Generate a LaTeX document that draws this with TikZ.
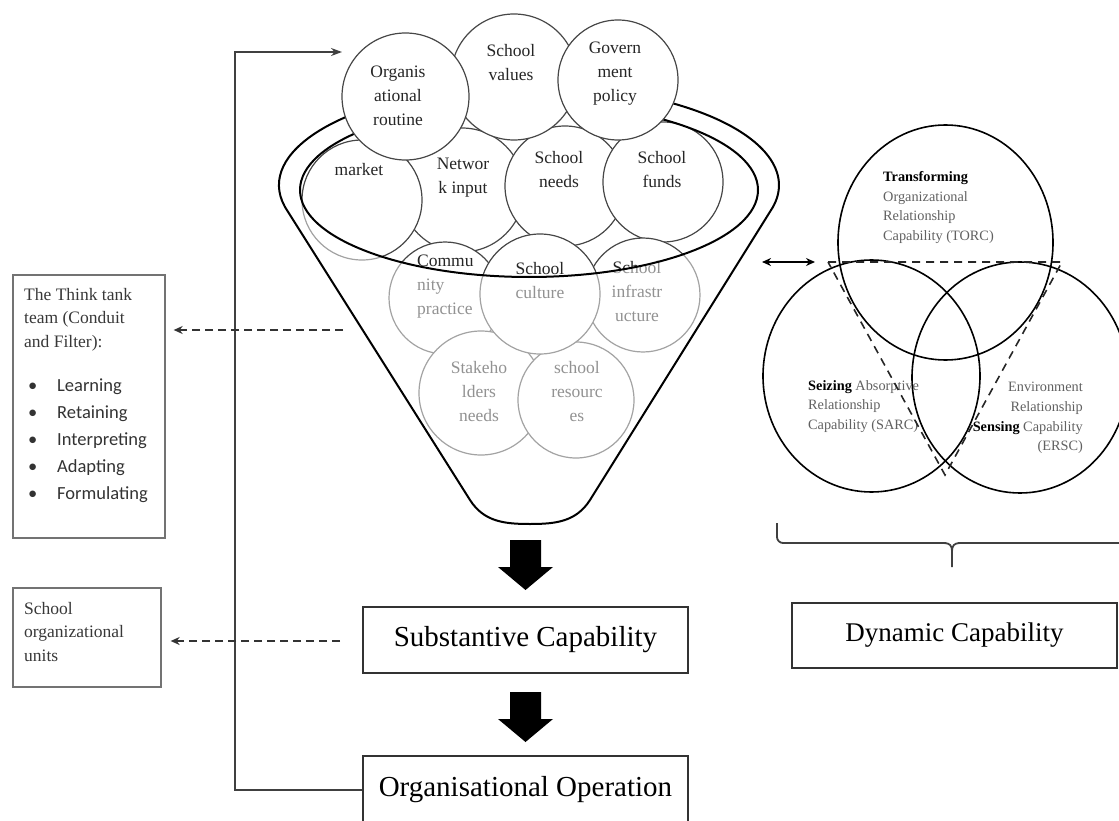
\documentclass[tikz,border=0pt]{standalone}
\usepackage{fontspec}
\setmainfont{Liberation Serif}
\newfontfamily\calfont{Carlito}
\usetikzlibrary{arrows.meta,shapes.geometric}

\begin{document}
\begin{tikzpicture}[x=1pt,y=-1pt,
  bubble/.style={circle,draw=black!72,line width=1.2pt,fill=white,inner sep=0pt},
  bubtext/.style={font=\fontsize{17.5}{24}\selectfont,align=center,inner sep=0pt,text=black!85},
  funnel/.style={draw=black,line width=2pt},
  vennc/.style={ellipse,draw=black,line width=1.6pt,inner sep=0pt},
  venntext/.style={font=\fontsize{14.3}{19.6}\selectfont,inner sep=0pt,text=black!62},
  smallbox/.style={draw=black!55,line width=1.3pt,inner sep=0pt},
  boxtext/.style={font=\fontsize{17.5}{23.5}\selectfont,align=left,inner sep=0pt,text=black!78},
  bullettext/.style={font=\calfont\fontsize{18.5}{27}\selectfont,align=left,inner sep=0pt,text=black!80},
  bigbox/.style={draw=black!80,line width=1.8pt,inner sep=0pt,minimum width=325pt},
  dasharrow/.style={draw=black!80,line width=1.7pt,dash pattern=on 8pt off 5pt,
    -{Stealth[length=9pt,width=8pt]}},
  flowline/.style={draw=black!75,line width=1.8pt,-{Stealth[length=11pt,width=8pt]}},
  bigdown/.pic={\fill[black] (-15.5,0) -- (15.5,0) -- (15.5,27) -- (27.5,27) -- (0,50)
    -- (-27.5,27) -- (-15.5,27) -- cycle;}
]
\useasboundingbox (0,0) rectangle (1119,821);

% ---------- inputs poured into the funnel ----------
\node[bubble,minimum size=124pt] (netw) at (462,190) {};
\node[bubtext] (netwt) at (463,177.5) {Networ\\k input};
\node[bubble,minimum size=120pt] (mark) at (362,200) {};
\node[bubtext] (markt) at (359,170) {market};
\node[bubble,minimum size=120pt] (need) at (565,186) {};
\node[bubtext] (needt) at (559,169.5) {School\\needs};
\node[bubble,minimum size=120pt] (fund) at (663,182) {};
\node[bubtext] (fundt) at (662,169.5) {School\\funds};

\node[bubble,minimum size=112pt] (comm) at (445,298) {};
\node[bubtext,align=left,anchor=west] (commt) at (417,286.5) {Commu\\nity\\practice};
\node[bubble,minimum size=114pt] (infr) at (643,295) {};
\node[bubtext] (infrt) at (637,291.5) {School\\infrastr\\ucture};
\node[bubble,minimum size=124pt] (stak) at (481,393) {};
\node[bubtext] (stakt) at (479,391.5) {Stakeho\\lders\\needs};
\node[bubble,minimum size=116pt] (reso) at (576,400) {};
\node[bubtext] (resot) at (577,391.5) {school\\resourc\\es};
\node[bubble,minimum size=120pt] (cult) at (540,294) {};
\node[bubtext] (cultt) at (540,280.5) {School\\culture};

% funnel body veils what lies below the opening
\fill[white,fill opacity=.5,even odd rule]
  (287.5,211) arc[start angle=165,end angle=375,x radius=250,y radius=100]
  -- (590,500) .. controls (576,522) and (555,524) .. (530,524)
  .. controls (505,524) and (484,522) .. (470,500) -- cycle
  (529,190) ellipse[x radius=229,y radius=87];

% funnel outline and rim
\draw[funnel]
  (287.5,211) arc[start angle=165,end angle=375,x radius=250,y radius=100]
  -- (590,500) .. controls (576,522) and (555,524) .. (530,524)
  .. controls (505,524) and (484,522) .. (470,500) -- cycle;
\draw[funnel] (529,190) ellipse[x radius=229,y radius=87];

% top row, resting on the rim
\node[bubble,minimum size=126pt] (valu) at (514,77) {};
\node[bubtext] (valut) at (511,62.5) {School\\values};
\node[bubble,minimum size=120pt] (govp) at (618,80) {};
\node[bubtext] (govpt) at (615,74) {Govern\\ment\\policy};
\node[bubble,minimum size=127pt] (orgr) at (405.5,96.5) {};
\node[bubtext] (orgrt) at (398,96) {Organis\\ational\\routine};

% ---------- outputs of the funnel ----------
\pic at (525.5,540) {bigdown};
\node[bigbox,minimum height=66pt,font=\fontsize{29}{34}\selectfont] (sc) at (525.5,640) {Substantive Capability};
\pic at (525.5,692) {bigdown};
\node[bigbox,minimum height=68pt,font=\fontsize{29}{34}\selectfont] (oo) at (525.5,790) {Organisational Operation};

% feedback loop back to the inputs
\coordinate (fbtip) at (342,52);
\draw[flowline] (oo.west) -| (235,52) -- (fbtip);

% ---------- side boxes ----------
\node[smallbox,minimum width=152pt,minimum height=263pt] (tt) at (89,406.5) {};
\node[boxtext,anchor=west] (tth) at (24,319.5) {The Think tank\\team (Conduit\\and Filter):};
\node[bullettext,anchor=west] (ttl) at (28,441) {%
  \makebox[29pt][l]{\textbullet}Learning\\
  \makebox[29pt][l]{\textbullet}Retaining\\
  \makebox[29pt][l]{\textbullet}Interpreting\\
  \makebox[29pt][l]{\textbullet}Adapting\\
  \makebox[29pt][l]{\textbullet}Formulating};
\node[smallbox,minimum width=148pt,minimum height=99pt] (sou) at (87,637.5) {};
\node[boxtext,anchor=west] (sout) at (24,632) {School\\organizational\\units};

\coordinate (tsrc) at (343,330);
\draw[dasharrow,shorten >=8pt] (tsrc) -- (tsrc -| tt.east);
\coordinate (ssrc) at (340,641);
\draw[dasharrow,shorten >=9pt] (ssrc) -- (ssrc -| sou.east);

% ---------- dynamic capability ----------
\node[vennc,minimum width=215pt,minimum height=235pt] (torc) at (945.5,242.5) {};
\node[vennc,minimum width=217pt,minimum height=232pt] (sarc) at (871.5,376) {};
\node[vennc,minimum width=216pt,minimum height=231pt] (ersc) at (1020,377.5) {};

\node[venntext,align=left,anchor=west] (torct) at (883,207.5)
  {\textcolor{black}{\textbf{Transforming}}\\Organizational\\Relationship\\Capability (TORC)};
\node[venntext,align=left,anchor=west] (sarct) at (808,406.5)
  {\textcolor{black}{\textbf{Seizing}} Absorptive\\Relationship\\Capability (SARC)};
\node[venntext,align=right,anchor=east] (ersct) at (1083,418)
  {Environment\\Relationship\\\textcolor{black}{\textbf{Sensing}} Capability\\(ERSC)};

\draw[black!85,line width=1.6pt,dash pattern=on 8pt off 6pt]
  (828,262) -- (1062,262) -- (945,475) -- cycle;

\coordinate (dl) at (762,262);
\coordinate (dr) at (815,262);
\draw[black,line width=1.8pt,{Stealth[length=9pt,width=8pt]}-{Stealth[length=9pt,width=8pt]}] (dl) -- (dr);

% brace gathering the three capabilities
\draw[black!75,line width=1.8pt,rounded corners=6pt] (777,523) -- (777,543) -- (946,543);
\draw[black!75,line width=1.8pt] (958,543) -- (1125,543);
\draw[black!75,line width=1.8pt] (944,543) .. controls (950,543) and (952,546) .. (952,551) -- (952,567);
\draw[black!75,line width=1.8pt] (960,543) .. controls (954,543) and (952,546) .. (952,551);

\node[bigbox,minimum height=65pt,font=\fontsize{27}{32}\selectfont] (dc) at (954.5,635.5) {Dynamic Capability};
\end{tikzpicture}
\end{document}
